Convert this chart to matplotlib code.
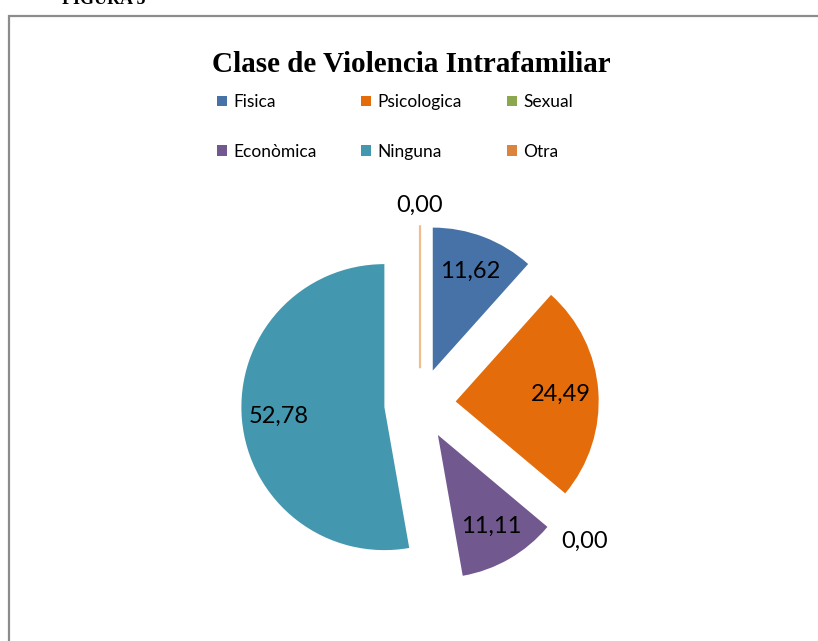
import matplotlib
matplotlib.use("Agg")
import numpy as np
from matplotlib import pyplot as plt
from matplotlib.patches import Rectangle, Patch

categories = ["Fisica", "Psicologica", "Sexual", "Econòmica", "Ninguna", "Otra"]
values = [11.62, 24.49, 0.00, 11.11, 52.78, 0.00]
colors = ["#4672A8", "#E46C0A", "#8BA84E", "#71588F", "#4398AF", "#DB843D"]
title = "Clase de Violencia Intrafamiliar"

W, H = 818, 641
fig = plt.figure(figsize=(W / 100, H / 100), dpi=100)

# frame around the chart (cut off at right and bottom)
frame = Rectangle((9 / W, -0.2), 1.5, 1.2 - 16 / H, transform=fig.transFigure,
                  fill=False, edgecolor="#8c8c8c", linewidth=1.6, clip_on=False)
fig.add_artist(frame)

# caption clipped by the top edge
fig.text(62 / W, 1 - 4 / H, "FIGURA 5", family="Liberation Serif", weight="bold",
         fontsize=13, ha="left", va="baseline")

fig.text(411 / W, 1 - 65 / H, title, family="Liberation Serif", weight="bold",
         fontsize=21, ha="center", va="center")

# pie: centre (420, 404) px, radius 143 px
cx, cy, r, half = 420, 404, 143, 200
lim = half / r
ax = fig.add_axes([(cx - half) / W, (H - cy - half) / H, 2 * half / W, 2 * half / H])
wedges, _ = ax.pie(values, colors=colors, startangle=90, counterclock=False,
                   explode=[0.25] * len(values), radius=1,
                   wedgeprops=dict(linewidth=0))
ax.set_xlim(-lim, lim)
ax.set_ylim(-lim, lim)
ax.set_aspect("equal")
ax.axis("off")

# zero-size "Otra" slice shows as a thin line
wedges[5].set_edgecolor("#F2BC90")
wedges[5].set_linewidth(1.6)

for w, v in zip(wedges, values):
    ang = np.deg2rad((w.theta1 + w.theta2) / 2)
    x0, y0 = w.center
    if v > 0:
        d = 0.74
    else:
        # outside label, pushed out by half its box along the direction
        d = 1.07 + (25 * abs(np.cos(ang)) + 10 * abs(np.sin(ang))) / r
    ax.text(x0 + d * np.cos(ang), y0 + d * np.sin(ang), f"{v:.2f}".replace(".", ","),
            ha="center", va="center", fontsize=17, family="Lato", color="black")

# legend, row-wise order over 3 columns
order = [0, 3, 1, 4, 2, 5]
handles = [Patch(facecolor=colors[i], edgecolor="none", label=categories[i]) for i in order]
fig.legend(handles=handles, ncol=3, loc="upper left",
           bbox_to_anchor=(217 / W, 1 - 94 / H), bbox_transform=fig.transFigure,
           frameon=False, borderpad=0, borderaxespad=0,
           prop=dict(family="Lato", size=12.5),
           handlelength=0.57, handleheight=0.57, handletextpad=0.35,
           columnspacing=2.6, labelspacing=1.95)

fig.savefig("out.png", dpi=100)
